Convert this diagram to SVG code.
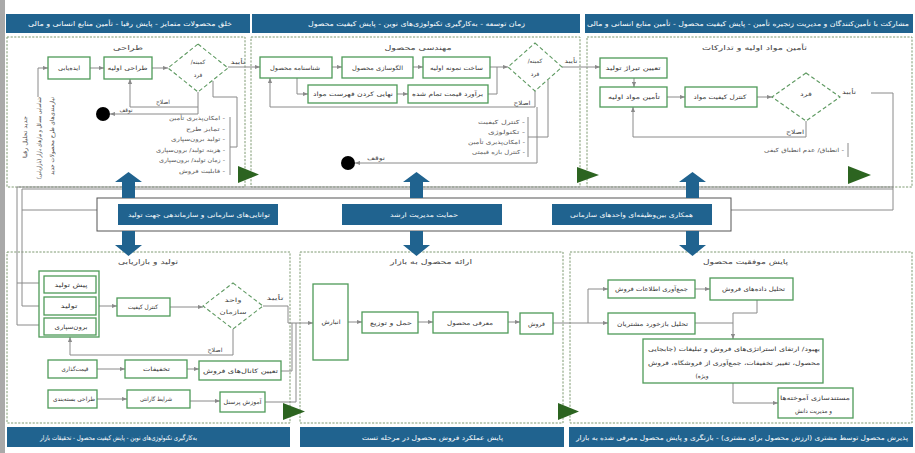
<svg xmlns="http://www.w3.org/2000/svg" width="915" height="453" viewBox="0 0 915 453">
<defs>
<marker id="ah" viewBox="0 0 6 6" refX="6" refY="3" markerWidth="5" markerHeight="5" orient="auto" markerUnits="userSpaceOnUse">
<path d="M0,0.5 L6,3 L0,5.5 z" fill="#8a8a8a"/>
</marker>
<style>
text{font-family:"DejaVu Sans","Noto Sans",sans-serif;direction:rtl}
.hd{fill:#20638f}
.ht{fill:#fff;font-size:6.6px}
.pn{fill:none;stroke:#7f9a72;stroke-width:1;stroke-dasharray:2.2 1.4}
.bx{fill:#fff;stroke:#4e9a58;stroke-width:1.3}
.dm{fill:#fff;stroke:#5f9a62;stroke-width:1.1;stroke-dasharray:4 2.5}
.bt{fill:#333;font-size:6px}
.ti{fill:#444;font-size:6.6px}
.lb{fill:#444;font-size:5.8px}
.li{fill:#555;font-size:5.6px}
.cn{fill:none;stroke:#8a8a8a;stroke-width:1}
.ca{fill:none;stroke:#8a8a8a;stroke-width:1;marker-end:url(#ah)}
.tr{fill:#2c6420}
.ba{fill:#20638f}
.bb{fill:#20638f}
.bbt{fill:#fff;font-size:6.2px}
.c{text-anchor:middle}
.r{text-anchor:start}
</style>
</defs>
<rect x="0" y="0" width="915" height="453" fill="#fff"/>
<rect x="0" y="0" width="5" height="453" fill="#a9a9a9"/>

<g id="header-top-1"><rect class="hd" x="6" y="14" width="244" height="19"/><text class="ht r" x="232" y="26" textLength="204" lengthAdjust="spacingAndGlyphs">خلق محصولات متمایز - پایش رقبا - تأمین منابع انسانی و مالی</text></g>
<g id="header-top-2"><rect class="hd" x="252" y="14" width="328" height="19"/><text class="ht r" x="525" y="26" textLength="217" lengthAdjust="spacingAndGlyphs">زمان توسعه - به‌کارگیری تکنولوژی‌های نوین - پایش کیفیت محصول</text></g>
<g id="header-top-3"><rect class="hd" x="585" y="14" width="328" height="19"/><text class="ht r" x="909" y="26" textLength="322" lengthAdjust="spacingAndGlyphs">مشارکت با تأمین‌کنندگان و مدیریت زنجیره تأمین - پایش کیفیت محصول - تأمین منابع انسانی و مالی</text></g>
<g id="footer-1"><rect class="hd" x="7" y="427" width="283" height="20"/><text class="ht r" x="197" y="439.5" textLength="157" lengthAdjust="spacingAndGlyphs">به‌کارگیری تکنولوژی‌های نوین - پایش کیفیت محصول - تحقیقات بازار</text></g>
<g id="footer-2"><rect class="hd" x="300" y="427" width="264" height="20"/><text class="ht r" x="503" y="439.5" textLength="141" lengthAdjust="spacingAndGlyphs">پایش عملکرد فروش محصول در مرحله تست</text></g>
<g id="footer-3"><rect class="hd" x="569" y="427" width="344" height="20"/><text class="ht r" x="908" y="439.5" textLength="332" lengthAdjust="spacingAndGlyphs">پذیرش محصول توسط مشتری (ارزش محصول برای مشتری) - بازنگری و پایش محصول معرفی شده به بازار</text></g>

<g id="panels">
<rect class="pn" x="7" y="37" width="238" height="150"/>
<rect class="pn" x="251" y="37" width="329" height="150"/>
<rect class="pn" x="587" y="37" width="325" height="150"/>
<rect class="pn" x="7" y="252" width="283" height="171"/>
<rect class="pn" x="300" y="252" width="263" height="171"/>
<rect class="pn" x="570" y="252" width="342" height="171"/>
</g>

<g id="connectors">
<path class="ca" d="M38,97 V68 H48"/>
<path class="ca" d="M90,68 H104"/>
<path class="ca" d="M152,68 H168"/>
<path class="ca" d="M228,67 H260"/>
<path class="ca" d="M198,92 V107 H130 V79"/>
<path class="ca" d="M198,107 V114 H110"/>
<path class="cn" d="M213,81 V97 H237 V147 H230"/>
<path class="cn" d="M230,117 V175"/>
<path class="ca" d="M332,67 H342"/>
<path class="ca" d="M413,67 H423"/>
<path class="ca" d="M490,67 H508"/>
<path class="ca" d="M297,78 V94 H308"/>
<path class="ca" d="M397,94 H408"/>
<path class="cn" d="M488,94 H497 V67"/>
<path class="ca" d="M535,91 V107 H270 V78"/>
<path class="ca" d="M537,107 V163 H355"/>
<path class="cn" d="M548,80 V137 H528"/>
<path class="cn" d="M528,117 V157"/>
<path class="ca" d="M562,67 H600"/>
<path class="ca" d="M634,78 V87"/>
<path class="ca" d="M667,97 H685"/>
<path class="ca" d="M757,97 H772"/>
<path class="ca" d="M806,121 V137 H633 V107"/>
<path class="cn" d="M848,143 V157"/>
<path class="cn" d="M871,93 H893 V210 H731"/>
<path class="cn" d="M17,187 H893"/>
<path class="cn" d="M22,189 H893"/>
<path class="cn" d="M97,210 H22"/>
<rect x="97" y="198" width="634" height="33" fill="none" stroke="#555" stroke-width="1"/>
<path class="cn" d="M17,187 V325"/>
<path class="cn" d="M22,189 V306"/>
<path class="ca" d="M17,283 H44"/>
<path class="ca" d="M22,306 H44"/>
<path class="ca" d="M17,325 H44"/>
<path class="ca" d="M99,306 H117"/>
<path class="ca" d="M170,307 H203"/>
<path class="ca" d="M233,329 V355 H70 V337"/>
<path class="ca" d="M97,369 H125"/>
<path class="ca" d="M187,369 H199"/>
<path class="ca" d="M97,399 H127"/>
<path class="ca" d="M190,401 H220"/>
<path class="cn" d="M263,306 H288 V323"/>
<path class="cn" d="M281,371 H292 V323"/>
<path class="cn" d="M265,402 H296 V323"/>
<path class="ca" d="M288,323 H313"/>
<path class="ca" d="M348,322 H362"/>
<path class="ca" d="M418,322 H433"/>
<path class="ca" d="M508,322 H520"/>
<path class="ca" d="M553,323 H608"/>
<path class="ca" d="M588,323 V289 H608"/>
<path class="ca" d="M695,289 H710"/>
<path class="cn" d="M757,300 V313 H733"/>
<path class="cn" d="M695,323 H733"/>
<path class="ca" d="M733,313 V339"/>
<path class="ca" d="M733,383 V403 H778"/>
</g>

<g id="band-arrows">
<path class="ba" d="M122,198 V182 H115 L128.5,172 L142,182 H135 V198 Z"/>
<path class="ba" d="M122,231 V245 H115 L128.5,256 L142,245 H135 V231 Z"/>
<path class="ba" d="M410,198 V182 H403 L416.5,172 L430,182 H423 V198 Z"/>
<path class="ba" d="M410,231 V245 H403 L416.5,256 L430,245 H423 V231 Z"/>
<path class="ba" d="M686,198 V182 H679 L692.5,172 L706,182 H699 V198 Z"/>
<path class="ba" d="M686,231 V245 H679 L692.5,256 L706,245 H699 V231 Z"/>
</g>

<g id="stage-markers">
<path class="tr" d="M238,166 L259,174.5 L238,183 Z"/>
<path class="tr" d="M577,167 L599,175 L577,183 Z"/>
<path class="tr" d="M848,166 L871,175 L848,184 Z"/>
<path class="tr" d="M283,403 L305,411.5 L283,420 Z"/>
<path class="tr" d="M558,403 L579,411.5 L558,420 Z"/>
</g>

<g id="band-1"><rect class="bb" x="118" y="204" width="160" height="21"/><text class="bbt r" x="270" y="216.5" textLength="142" lengthAdjust="spacingAndGlyphs">توانایی‌های سازمانی و سازماندهی جهت تولید</text></g>
<g id="band-2"><rect class="bb" x="342" y="204" width="160" height="21"/><text class="bbt r" x="458" y="216.5" textLength="68" lengthAdjust="spacingAndGlyphs">حمایت مدیریت ارشد</text></g>
<g id="band-3"><rect class="bb" x="552" y="204" width="160" height="21"/><text class="bbt r" x="693" y="216.5" textLength="123" lengthAdjust="spacingAndGlyphs">همکاری بین‌وظیفه‌ای واحدهای سازمانی</text></g>

<text class="ti r" x="143" y="50" textLength="30" lengthAdjust="spacingAndGlyphs">طراحی</text>
<g id="n-ideation"><rect class="bx" x="48" y="57" width="42" height="22"/><text class="bt r" x="80" y="70" textLength="22" lengthAdjust="spacingAndGlyphs">ایده‌یابی</text></g>
<g id="n-initial-design"><rect class="bx" x="104" y="57" width="48" height="22"/><text class="bt r" x="147.5" y="70" textLength="40" lengthAdjust="spacingAndGlyphs">طراحی اولیه</text></g>
<g id="n-d1"><path class="dm" d="M198,44 L228,68 L198,92 L168,68 Z"/><text class="lb c" x="198" y="64">کمیته/</text><text class="lb c" x="198" y="77">فرد</text></g>
<text class="lb r" x="245.5" y="64" textLength="15" lengthAdjust="spacingAndGlyphs">تأیید</text>
<text class="lb r" x="170" y="104" textLength="14" lengthAdjust="spacingAndGlyphs">اصلاح</text>
<text class="lb r" x="132.5" y="112" textLength="13" lengthAdjust="spacingAndGlyphs">توقف</text>
<g id="n-stop1"><circle cx="103" cy="114" r="7" fill="#000"/></g>
<g id="list-1">
<text class="li r" x="225" y="120" textLength="56" lengthAdjust="spacingAndGlyphs">- امکان‌پذیری تأمین</text>
<text class="li r" x="225" y="130.5" textLength="39" lengthAdjust="spacingAndGlyphs">- تمایز طرح</text>
<text class="li r" x="225" y="141" textLength="54" lengthAdjust="spacingAndGlyphs">- تولید برون‌سپاری</text>
<text class="li r" x="225" y="151.5" textLength="69" lengthAdjust="spacingAndGlyphs">- هزینه تولید/ برون‌سپاری</text>
<text class="li r" x="225" y="162" textLength="66" lengthAdjust="spacingAndGlyphs">- زمان تولید/ برون‌سپاری</text>
<text class="li r" x="225" y="172.5" textLength="46" lengthAdjust="spacingAndGlyphs">- قابلیت فروش</text>
</g>
<g id="side-notes">
<text class="lb r" transform="translate(54,97) rotate(-90)" textLength="78" lengthAdjust="spacingAndGlyphs">نیازمندی‌های طرح محصولات جدید</text>
<text class="lb r" transform="translate(41,97) rotate(-90)" textLength="82" lengthAdjust="spacingAndGlyphs">شناسایی مسائل و نیازهای بازار (بازاریابی)</text>
<text class="lb r" transform="translate(27,116) rotate(-90)" textLength="42" lengthAdjust="spacingAndGlyphs">جدید تحلیل رقبا</text>
</g>

<text class="ti r" x="451.5" y="50" textLength="67" lengthAdjust="spacingAndGlyphs">مهندسی محصول</text>
<g id="n-product-id"><rect class="bx" x="260" y="57" width="72" height="21"/><text class="bt r" x="320" y="69.5" textLength="50" lengthAdjust="spacingAndGlyphs">شناسنامه محصول</text></g>
<g id="n-modeling"><rect class="bx" x="342" y="57" width="71" height="21"/><text class="bt r" x="403" y="69.5" textLength="51" lengthAdjust="spacingAndGlyphs">الگوسازی محصول</text></g>
<g id="n-prototype"><rect class="bx" x="423" y="57" width="67" height="21"/><text class="bt r" x="483" y="69.5" textLength="53" lengthAdjust="spacingAndGlyphs">ساخت نمونه اولیه</text></g>
<g id="n-bom"><rect class="bx" x="308" y="85" width="89" height="18"/><text class="bt r" x="393" y="96" textLength="80" lengthAdjust="spacingAndGlyphs">نهایی کردن فهرست مواد</text></g>
<g id="n-cost"><rect class="bx" x="408" y="85" width="80" height="18"/><text class="bt r" x="483" y="96" textLength="71" lengthAdjust="spacingAndGlyphs">برآورد قیمت تمام شده</text></g>
<g id="n-d2"><path class="dm" d="M535,43 L562,67 L535,91 L508,67 Z"/><text class="lb c" x="535" y="63">کمیته/</text><text class="lb c" x="535" y="76">فرد</text></g>
<text class="lb r" x="577.5" y="63" textLength="13" lengthAdjust="spacingAndGlyphs">تأیید</text>
<text class="lb r" x="530.5" y="105" textLength="17" lengthAdjust="spacingAndGlyphs">اصلاح</text>
<text class="lb r" x="385" y="160" textLength="18" lengthAdjust="spacingAndGlyphs">توقف</text>
<g id="n-stop2"><circle cx="348" cy="163" r="7" fill="#000"/></g>
<g id="list-2">
<text class="li r" x="525" y="124" textLength="47" lengthAdjust="spacingAndGlyphs">- کنترل کیفیت</text>
<text class="li r" x="525" y="134" textLength="37" lengthAdjust="spacingAndGlyphs">- تکنولوژی</text>
<text class="li r" x="525" y="144" textLength="57" lengthAdjust="spacingAndGlyphs">- امکان‌پذیری تأمین</text>
<text class="li r" x="525" y="154" textLength="53" lengthAdjust="spacingAndGlyphs">- کنترل بازه قیمتی</text>
</g>

<text class="ti r" x="807" y="50" textLength="105" lengthAdjust="spacingAndGlyphs">تأمین مواد اولیه و تدارکات</text>
<g id="n-volume"><rect class="bx" x="600" y="58" width="67" height="20"/><text class="bt r" x="660.5" y="70" textLength="55" lengthAdjust="spacingAndGlyphs">تعیین تیراژ تولید</text></g>
<g id="n-supply"><rect class="bx" x="600" y="87" width="67" height="20"/><text class="bt r" x="660" y="99" textLength="52" lengthAdjust="spacingAndGlyphs">تأمین مواد اولیه</text></g>
<g id="n-material-qc"><rect class="bx" x="685" y="87" width="72" height="20"/><text class="bt r" x="746.5" y="99" textLength="53" lengthAdjust="spacingAndGlyphs">کنترل کیفیت مواد</text></g>
<g id="n-d3"><path class="dm" d="M806,73 L840,97 L806,121 L772,97 Z"/><text class="lb r" x="812" y="96" textLength="12" lengthAdjust="spacingAndGlyphs">فرد</text></g>
<text class="lb r" x="856" y="94" textLength="14" lengthAdjust="spacingAndGlyphs">تأیید</text>
<text class="lb r" x="804" y="134" textLength="18" lengthAdjust="spacingAndGlyphs">اصلاح</text>
<text class="li r" x="844" y="152" textLength="80" lengthAdjust="spacingAndGlyphs">- انطباق/ عدم انطباق کیفی</text>

<text class="ti r" x="178" y="264" textLength="60" lengthAdjust="spacingAndGlyphs">تولید و بازاریابی</text>
<g id="n-production-group"><rect class="bx" x="39" y="271" width="60" height="66"/>
<rect class="bx" x="44" y="276" width="52" height="17"/><text class="bt r" x="87.5" y="286.5" textLength="33" lengthAdjust="spacingAndGlyphs">پیش تولید</text>
<rect class="bx" x="44" y="297" width="52" height="18"/><text class="bt r" x="77.5" y="308" textLength="17" lengthAdjust="spacingAndGlyphs">تولید</text>
<rect class="bx" x="44" y="318" width="52" height="17"/><text class="bt r" x="87.5" y="328.5" textLength="33" lengthAdjust="spacingAndGlyphs">برون‌سپاری</text></g>
<g id="n-qc"><rect class="bx" x="117" y="298" width="53" height="18"/><text class="bt r" x="158" y="309" textLength="30" lengthAdjust="spacingAndGlyphs">کنترل کیفیت</text></g>
<g id="n-d4"><path class="dm" d="M233,283 L263,306 L233,329 L203,306 Z"/><text class="lb r" x="241.5" y="302" textLength="17" lengthAdjust="spacingAndGlyphs">واحد</text><text class="lb r" x="246.5" y="314" textLength="27" lengthAdjust="spacingAndGlyphs">سازمان</text></g>
<text class="lb r" x="283.5" y="300" textLength="17" lengthAdjust="spacingAndGlyphs">تأیید</text>
<text class="lb r" x="222.5" y="352" textLength="15" lengthAdjust="spacingAndGlyphs">اصلاح</text>
<g id="n-pricing"><rect class="bx" x="48" y="360" width="49" height="18"/><text class="bt r" x="88.5" y="371" textLength="27" lengthAdjust="spacingAndGlyphs">قیمت‌گذاری</text></g>
<g id="n-discounts"><rect class="bx" x="125" y="360" width="62" height="18"/><text class="bt r" x="170" y="371" textLength="27" lengthAdjust="spacingAndGlyphs">تخفیفات</text></g>
<g id="n-channels"><rect class="bx" x="199" y="361" width="82" height="19"/><text class="bt r" x="278" y="372.5" textLength="75" lengthAdjust="spacingAndGlyphs">تعیین کانال‌های فروش</text></g>
<g id="n-packaging"><rect class="bx" x="48" y="390" width="49" height="18"/><text class="bt r" x="95" y="401" textLength="42" lengthAdjust="spacingAndGlyphs">طراحی بسته‌بندی</text></g>
<g id="n-warranty"><rect class="bx" x="127" y="390" width="63" height="18"/><text class="bt r" x="172" y="401" textLength="32" lengthAdjust="spacingAndGlyphs">شرایط گارانتی</text></g>
<g id="n-training"><rect class="bx" x="220" y="392" width="45" height="20"/><text class="bt r" x="261.5" y="404" textLength="38" lengthAdjust="spacingAndGlyphs">آموزش پرسنل</text></g>

<text class="ti r" x="472" y="264" textLength="82" lengthAdjust="spacingAndGlyphs">ارائه محصول به بازار</text>
<g id="n-storage"><rect class="bx" x="313" y="284" width="35" height="76"/><text class="bt r" x="340.5" y="324" textLength="19" lengthAdjust="spacingAndGlyphs">انبارش</text></g>
<g id="n-distribution"><rect class="bx" x="362" y="312" width="56" height="21"/><text class="bt r" x="412" y="324.5" textLength="42" lengthAdjust="spacingAndGlyphs">حمل و توزیع</text></g>
<g id="n-introduction"><rect class="bx" x="433" y="312" width="75" height="21"/><text class="bt r" x="493" y="324.5" textLength="46" lengthAdjust="spacingAndGlyphs">معرفی محصول</text></g>
<g id="n-sales"><rect class="bx" x="520" y="313" width="33" height="21"/><text class="bt r" x="545" y="325.5" textLength="17" lengthAdjust="spacingAndGlyphs">فروش</text></g>

<text class="ti r" x="788" y="264" textLength="85" lengthAdjust="spacingAndGlyphs">پایش موفقیت محصول</text>
<g id="n-collect"><rect class="bx" x="608" y="280" width="87" height="18"/><text class="bt r" x="688" y="291" textLength="73" lengthAdjust="spacingAndGlyphs">جمع‌آوری اطلاعات فروش</text></g>
<g id="n-analyze"><rect class="bx" x="710" y="278" width="83" height="22"/><text class="bt r" x="785" y="291" textLength="63" lengthAdjust="spacingAndGlyphs">تحلیل داده‌های فروش</text></g>
<g id="n-feedback"><rect class="bx" x="608" y="313" width="87" height="21"/><text class="bt r" x="688" y="325.5" textLength="71" lengthAdjust="spacingAndGlyphs">تحلیل بازخورد مشتریان</text></g>
<g id="n-improve"><rect class="bx" x="643" y="339" width="180" height="44"/>
<text class="bt r" x="820" y="351" textLength="172" lengthAdjust="spacingAndGlyphs">بهبود/ ارتقای استراتژی‌های فروش و تبلیغات (جابجایی</text>
<text class="bt r" x="820" y="364.5" textLength="172" lengthAdjust="spacingAndGlyphs">محصول، تغییر تخفیفات، جمع‌آوری از فروشگاه، فروش</text>
<text class="bt r" x="708.5" y="378" textLength="13" lengthAdjust="spacingAndGlyphs">ویژه)</text></g>
<g id="n-knowledge"><rect class="bx" x="778" y="388" width="75" height="30"/><text class="bt r" x="850" y="400" textLength="70" lengthAdjust="spacingAndGlyphs">مستندسازی آموخته‌ها</text><text class="bt r" x="832" y="413" textLength="37" lengthAdjust="spacingAndGlyphs">و مدیریت دانش</text></g>
</svg>
